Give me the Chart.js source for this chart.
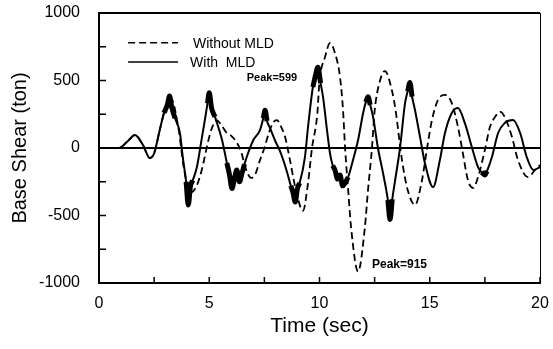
<!DOCTYPE html>
<html>
<head>
<meta charset="utf-8">
<script src="https://cdn.jsdelivr.net/npm/chart.js@4.4.1/dist/chart.umd.min.js"></script>
<style>
  body { margin: 0; background: #fff; }
  #wrap { width: 553px; height: 349px; }
</style>
</head>
<body>
<div id="wrap"><canvas id="c"></canvas></div>
<script>
// With MLD (solid line)
const timeWith = [0, 0.9, 1.3, 1.63, 2.0, 2.3, 2.5, 2.75, 2.95, 3.1, 3.2, 3.3, 3.45, 3.67, 3.8, 3.95, 4.05, 4.15, 4.25,
  4.44, 4.65, 4.8, 4.92, 5.0, 5.1, 5.26, 5.42, 5.58, 5.8, 5.92, 6.03, 6.15, 6.25, 6.37, 6.48, 6.6, 6.7, 7.0, 7.3,
  7.45, 7.53, 7.62, 7.75, 8.0, 8.2, 8.5, 8.7, 8.8, 8.9, 9.0, 9.1, 9.34, 9.48, 9.7, 9.82, 9.93, 10.05, 10.16, 10.34,
  10.48, 10.6, 10.7, 10.82, 10.93, 11.05, 11.16, 11.3, 11.52, 11.75, 11.97, 12.1, 12.2, 12.3, 12.43, 12.65, 12.88,
  13.1, 13.2, 13.3, 13.42, 13.65, 13.88, 14.0, 14.1, 14.2, 14.33, 14.56, 14.78, 15.15, 15.46, 15.69, 16.0, 16.28,
  16.6, 16.92, 17.19, 17.35, 17.5, 17.6, 17.82, 18.1, 18.4, 18.78, 19.1, 19.4, 19.7, 20];
const shearWith = [0, 0, 50, 96, 20, -74, -40, 130, 260, 320, 385, 300, 220, 111, -67, -250, -422, -280, -240,
  -141, 60, 207, 330, 410, 300, 230, 150, 59, -111, -200, -300, -220, -163, -250, -190, -120, -67, 59, 133,
  220, 280, 200, 150, 50, -20, -163, -280, -330, -400, -300, -259, -67, 156, 452, 540, 599, 480, 378, 133,
  -44, -130, -163, -230, -200, -280, -260, -215, -89, 59, 252, 340, 380, 320, 230, 0, -185,
  -385, -530, -380, -250, 0, 333, 420, 485, 380, 281, 81, -111, -289, -89, 111, 259, 296,
  180, 0, -141, -180, -200, -170, -67, 111, 185, 207, 111, -67, -163, -141];

// Without MLD (dashed line)
const timeWithout = [0, 0.9, 1.3, 1.63, 2.0, 2.3, 2.5, 2.75, 2.95, 3.25, 3.6, 3.85, 4.15, 4.4, 4.6, 4.75, 4.95, 5.15,
  5.35, 5.55, 5.8, 6.0, 6.25, 6.45, 6.65, 6.9, 7.1, 7.3, 7.5, 7.7, 7.9, 8.07, 8.25, 8.44, 8.66, 8.9, 9.25, 9.48,
  9.66, 9.9, 10.0, 10.25, 10.48, 10.7, 10.93, 11.07, 11.16, 11.3, 11.43, 11.75, 12.06, 12.2, 12.38, 12.5, 12.74,
  12.97, 13.29, 13.45, 13.74, 14.0, 14.33, 14.65, 14.88, 15.1, 15.37, 15.69, 16.0, 16.28, 16.5, 16.73, 16.97,
  17.19, 17.5, 17.73, 17.96, 18.2, 18.4, 18.73, 19.0, 19.46, 19.77, 20];
const shearWithout = [0, 0, 50, 96, 20, -74, -40, 130, 260, 370, 150, -150, -330, -290, -200, -100, 50, 160,
  205, 170, 110, 90, 40, -30, -150, -222, -190, -90, 0, 110, 190, 207, 160, 81, -89, -289, -465, -259,
  0, 252, 496, 674, 778, 704, 526, 274, 0, -311, -585, -915, -585, -311, 0, 274, 496,
  570, 422, 280, -89, -311, -422, -237, 0, 207, 355, 393, 333, 156, -37, -237, -296,
  -215, -15, 156, 230, 267, 230, 81, -89, -215, -163, -126];

// stretches where the solid trace is a thick noisy band
const noisyRanges = [[2.9, 3.5], [3.85, 4.3], [4.85, 5.3], [5.8, 6.6], [7.4, 7.65], [8.6, 9.1], [9.7, 10.1],
  [10.55, 11.35], [12.05, 12.35], [13.05, 13.35], [13.95, 14.25], [17.3, 17.65]];

const seriesNames = ['Without MLD', 'With  MLD'];
const peakNotes = [
  { text: 'Peak=599', x: 6.7, y: 520, size: 11 },
  { text: 'Peak=915', x: 12.38, y: -867, size: 12 }
];

const FONT = "'Liberation Sans', Arial, sans-serif";

function toPoints(ts, vs) {
  return ts.map((t, i) => ({ x: t, y: vs[i] }));
}
const inNoise = t => noisyRanges.some(r => t >= r[0] && t <= r[1]);
const bandPoints = timeWith.map((t, i) => ({ x: t, y: inNoise(t) ? shearWith[i] : null }));

function line(ctx, x1, y1, x2, y2) {
  ctx.beginPath();
  ctx.moveTo(x1, y1);
  ctx.lineTo(x2, y2);
  ctx.stroke();
}

const extras = {
  id: 'extras',
  afterDraw(chart) {
    const { ctx, chartArea: a, scales: { x, y } } = chart;
    ctx.save();
    ctx.strokeStyle = '#000';
    ctx.fillStyle = '#000';

    // zero line
    ctx.lineWidth = 2;
    const y0 = y.getPixelForValue(0);
    line(ctx, a.left, y0, a.right, y0);

    // frame
    ctx.lineWidth = 2;
    line(ctx, a.left, a.top - 1, a.left, a.bottom + 1);
    line(ctx, a.left - 1, a.bottom, a.right + 1, a.bottom);
    line(ctx, a.left, a.top, a.right, a.top);
    ctx.lineWidth = 1;
    line(ctx, a.right + 0.5, a.top, a.right + 0.5, a.bottom);

    // inward tick marks
    ctx.lineWidth = 1.5;
    x.ticks.forEach(t => {
      const px = x.getPixelForValue(t.value);
      line(ctx, px, a.bottom, px, a.bottom - 6);
    });
    y.ticks.forEach(t => {
      const py = y.getPixelForValue(t.value);
      line(ctx, a.left, py, a.left + 7, py);
    });

    // legend inside the plot
    const ds = chart.data.datasets;
    const lx1 = x.getPixelForValue(1.32), lx2 = x.getPixelForValue(3.58);
    const rows = [780, 637];
    ctx.font = '14px ' + FONT;
    ctx.textBaseline = 'middle';
    ctx.textAlign = 'left';
    [0, 1].forEach(i => {
      const py = y.getPixelForValue(rows[i]);
      ctx.lineWidth = 1.6;
      ctx.setLineDash(ds[i].borderDash || []);
      line(ctx, lx1, py, lx2, py);
      ctx.setLineDash([]);
      ctx.fillText(ds[i].label, x.getPixelForValue(i === 0 ? 4.26 : 4.13), py + 1);
    });

    // peak notes
    peakNotes.forEach(n => {
      ctx.font = 'bold ' + n.size + 'px ' + FONT;
      ctx.fillText(n.text, x.getPixelForValue(n.x), y.getPixelForValue(n.y));
    });
    ctx.restore();
  }
};

new Chart(document.getElementById('c'), {
  type: 'line',
  data: {
    datasets: [{
      label: seriesNames[0],
      data: toPoints(timeWithout, shearWithout),
      borderColor: '#000',
      borderWidth: 1.8,
      borderDash: [7, 4],
      pointRadius: 0,
      cubicInterpolationMode: 'monotone',
      fill: false
    }, {
      label: seriesNames[1],
      data: toPoints(timeWith, shearWith),
      borderColor: '#000',
      borderWidth: 2,
      pointRadius: 0,
      cubicInterpolationMode: 'monotone',
      fill: false
    }, {
      label: 'band',
      data: bandPoints,
      borderColor: '#000',
      borderWidth: 5,
      pointRadius: 0,
      cubicInterpolationMode: 'monotone',
      spanGaps: false,
      fill: false
    }]
  },
  options: {
    responsive: true,
    maintainAspectRatio: false,
    animation: false,
    layout: { padding: { top: 13, right: 13, left: 0, bottom: 0 } },
    plugins: {
      legend: { display: false },
      tooltip: { enabled: false }
    },
    scales: {
      x: {
        type: 'linear',
        min: 0,
        max: 20,
        afterFit: s => { s.height = 66; s.paddingLeft = 0; s.paddingRight = 0; },
        grid: { display: false, drawTicks: false },
        border: { display: false },
        ticks: {
          stepSize: 2.5,
          autoSkip: false,
          maxRotation: 0,
          padding: 11,
          color: '#000',
          font: { family: FONT, size: 16 },
          callback: v => (v % 5 === 0 ? v : '')
        },
        title: {
          display: true,
          text: 'Time (sec)',
          color: '#000',
          font: { family: FONT, size: 21 },
          padding: { top: 0, bottom: 10 }
        }
      },
      y: {
        min: -1000,
        max: 1000,
        afterFit: s => { s.width = 99; s.paddingTop = 0; s.paddingBottom = 0; },
        grid: { display: false, drawTicks: false },
        border: { display: false },
        ticks: {
          stepSize: 250,
          autoSkip: false,
          padding: 19,
          color: '#000',
          font: { family: FONT, size: 16 },
          callback: v => (v % 500 === 0 ? v : '')
        },
        title: {
          display: true,
          text: 'Base Shear (ton)',
          color: '#000',
          font: { family: FONT, size: 20 },
          padding: { top: 8, bottom: 0 }
        }
      }
    }
  },
  plugins: [extras]
});
</script>
</body>
</html>
